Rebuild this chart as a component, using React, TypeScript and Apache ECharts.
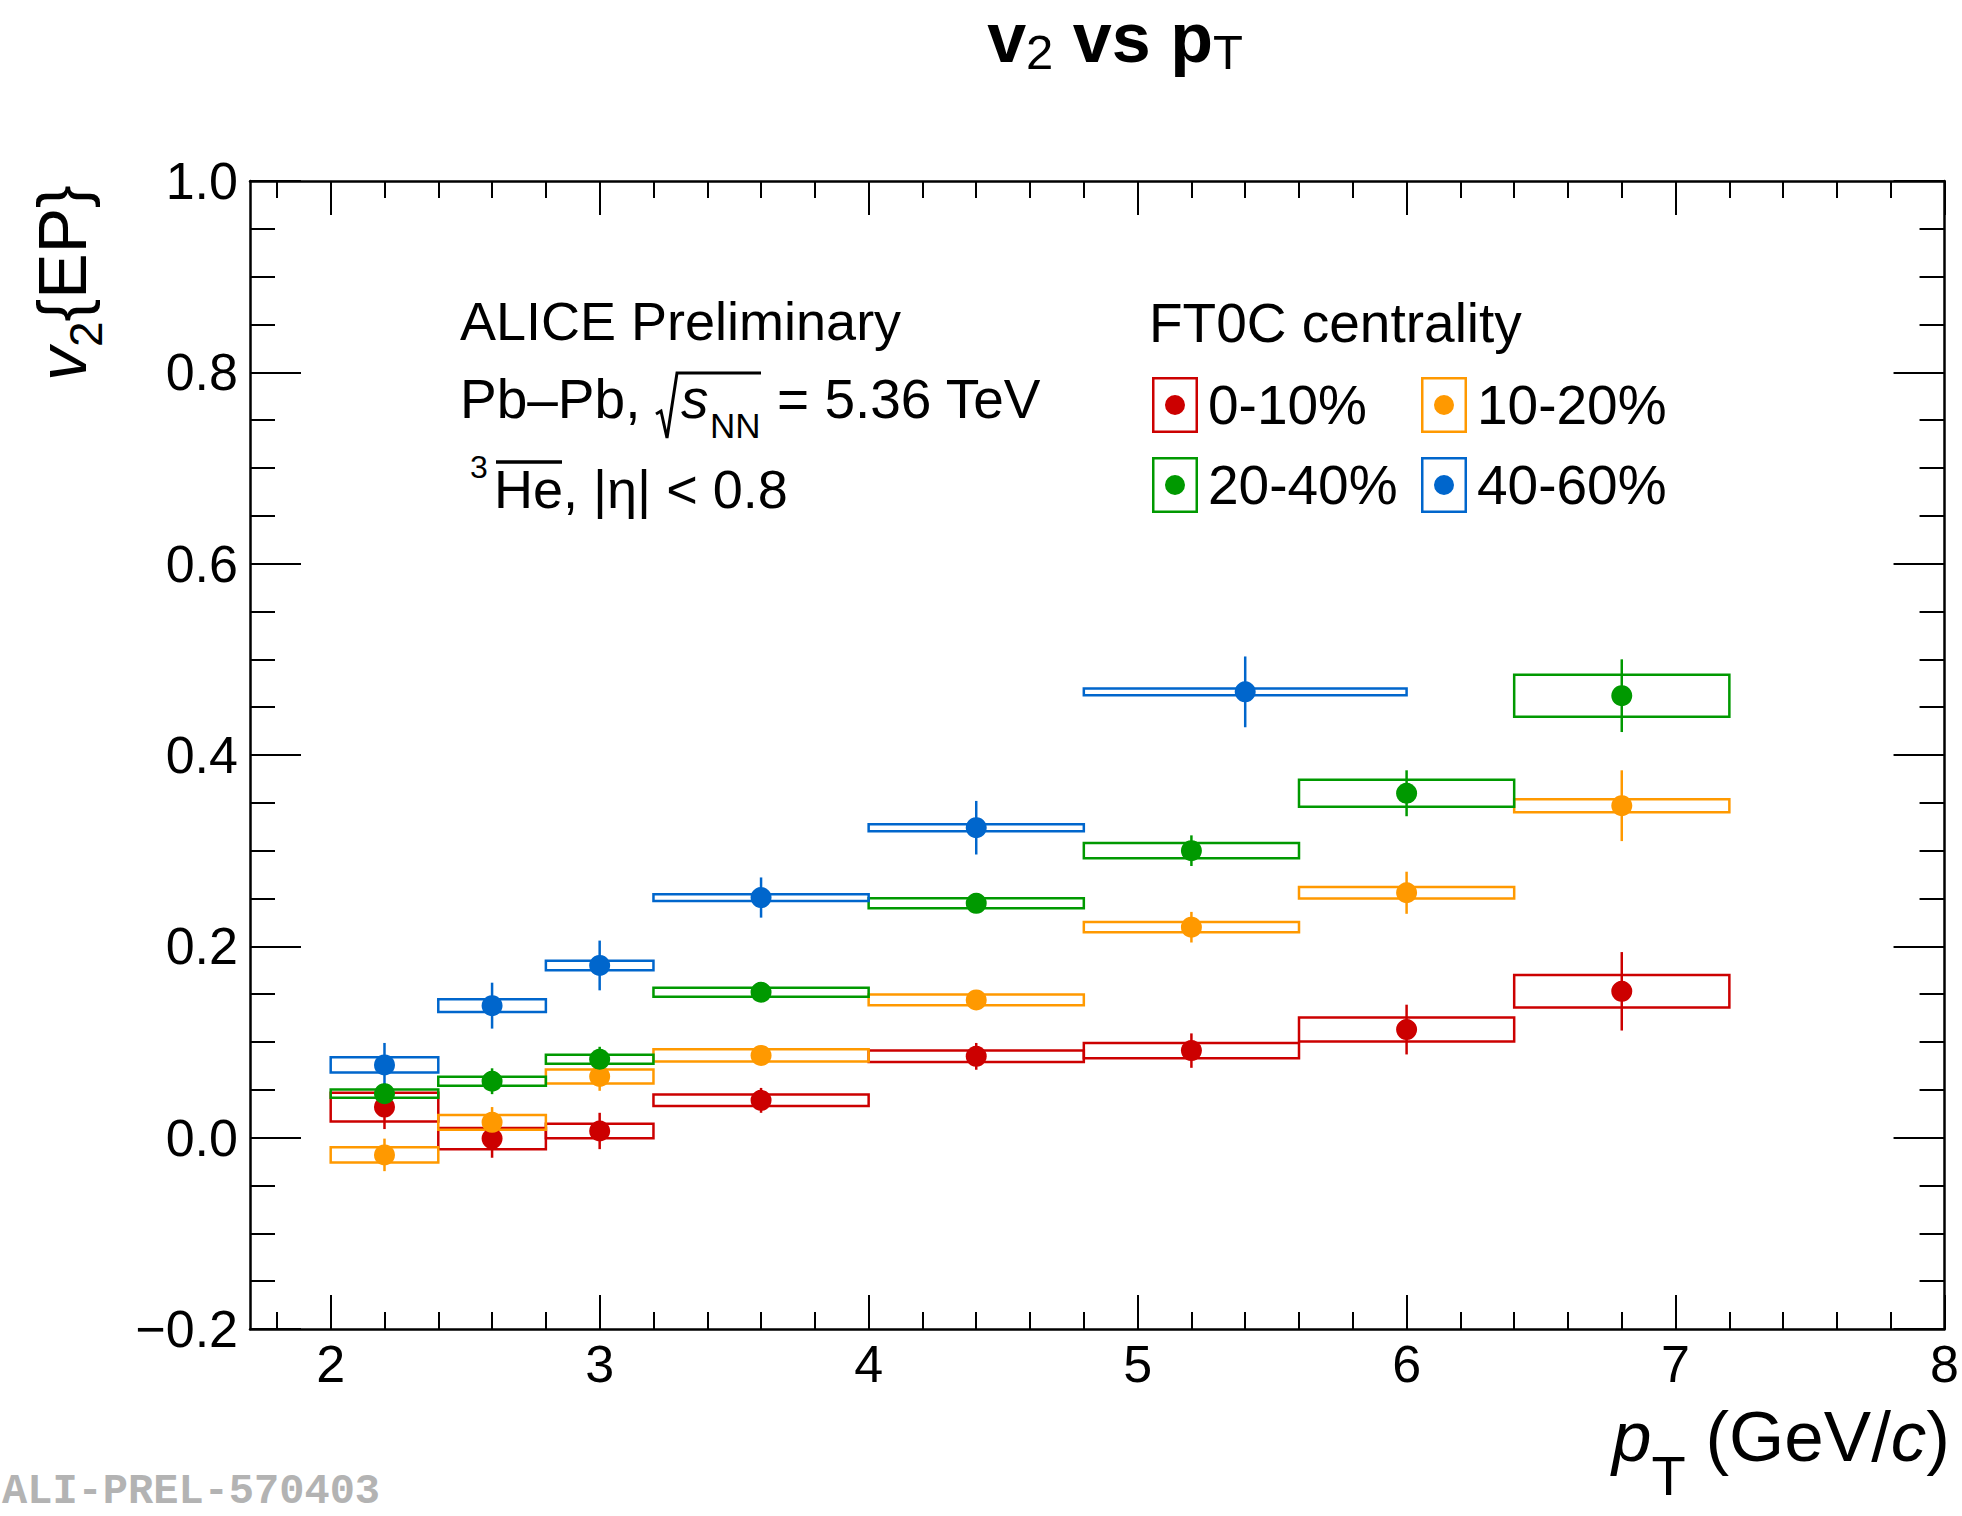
import React, { useEffect, useRef } from 'react';
import * as echarts from 'echarts';

// ---------------- data ----------------
const centralityNames = ['0-10%', '10-20%', '20-40%', '40-60%'];
const centralityColors = ['#cc0000', '#ff9900', '#009900', '#0066cc'];

const binLowStd = [2.0, 2.4, 2.8, 3.2, 4.0, 4.8, 5.6, 6.4];
const binHighStd = [2.4, 2.8, 3.2, 4.0, 4.8, 5.6, 6.4, 7.2];
const binLow4060 = [2.0, 2.4, 2.8, 3.2, 4.0, 4.8];
const binHigh4060 = [2.4, 2.8, 3.2, 4.0, 4.8, 6.0];

const v2_0_10 = [0.032, -0.001, 0.007, 0.039, 0.085, 0.091, 0.113, 0.153];
const stat_0_10 = [0.023, 0.020, 0.019, 0.013, 0.014, 0.018, 0.026, 0.041];
const syst_0_10 = [0.015, 0.011, 0.0075, 0.006, 0.006, 0.008, 0.0125, 0.017];

const v2_10_20 = [-0.018, 0.016, 0.064, 0.086, 0.144, 0.220, 0.256, 0.347];
const stat_10_20 = [0.017, 0.016, 0.015, 0.009, 0.009, 0.016, 0.022, 0.037];
const syst_10_20 = [0.008, 0.0077, 0.0073, 0.0063, 0.0056, 0.0054, 0.006, 0.0068];

const v2_20_40 = [0.046, 0.059, 0.082, 0.152, 0.245, 0.300, 0.360, 0.462];
const stat_20_40 = [0.011, 0.0135, 0.013, 0.009, 0.010, 0.016, 0.024, 0.038];
const syst_20_40 = [0.0044, 0.0047, 0.0048, 0.0046, 0.0053, 0.008, 0.014, 0.022];

const v2_40_60 = [0.076, 0.138, 0.180, 0.251, 0.324, 0.466];
const stat_40_60 = [0.023, 0.024, 0.026, 0.021, 0.028, 0.037];
const syst_40_60 = [0.008, 0.0066, 0.0049, 0.0035, 0.0037, 0.0035];

const xMajorTicks = [2, 3, 4, 5, 6, 7, 8];
const xMinorTicks = [1.8, 2.2, 2.4, 2.6, 2.8, 3.2, 3.4, 3.6, 3.8, 4.2, 4.4, 4.6, 4.8, 5.2, 5.4, 5.6, 5.8, 6.2, 6.4, 6.6, 6.8, 7.2, 7.4, 7.6, 7.8];

const FONT = '"Liberation Sans", Arial, Helvetica, sans-serif';
const LEGEND_ICON =
  'path://M0,0H46V56H0Z M2.5,2.5V53.5H43.5V2.5Z M13,28A10,10,0,1,0,33,28A10,10,0,1,0,13,28Z';

const groups = [
  { name: centralityNames[0], color: centralityColors[0], lo: binLowStd, hi: binHighStd, v: v2_0_10, stat: stat_0_10, syst: syst_0_10 },
  { name: centralityNames[1], color: centralityColors[1], lo: binLowStd, hi: binHighStd, v: v2_10_20, stat: stat_10_20, syst: syst_10_20 },
  { name: centralityNames[2], color: centralityColors[2], lo: binLowStd, hi: binHighStd, v: v2_20_40, stat: stat_20_40, syst: syst_20_40 },
  { name: centralityNames[3], color: centralityColors[3], lo: binLow4060, hi: binHigh4060, v: v2_40_60, stat: stat_40_60, syst: syst_40_60 },
];

function buildOption() {
  const series: any[] = [];
  groups.forEach((g) => {
    const color = g.color;
    series.push({
      type: 'custom',
      name: g.name + ' syst',
      xAxisIndex: 0,
      yAxisIndex: 0,
      silent: true,
      clip: false,
      encode: { x: [0, 1], y: 2 },
      data: g.v.map((y, i) => [g.lo[i], g.hi[i], y, g.stat[i], g.syst[i]]),
      renderItem: (params: any, api: any) => {
        const xl = api.value(0);
        const xh = api.value(1);
        const y = api.value(2);
        const st = api.value(3);
        const sy = api.value(4);
        const xc = (xl + xh) / 2;
        const tl = api.coord([xl, y + sy]);
        const br = api.coord([xh, y - sy]);
        const et = api.coord([xc, y + st]);
        const eb = api.coord([xc, y - st]);
        return {
          type: 'group',
          children: [
            {
              type: 'rect',
              shape: { x: tl[0], y: tl[1], width: br[0] - tl[0], height: br[1] - tl[1] },
              style: { fill: 'none', stroke: color, lineWidth: 2.5 },
            },
            {
              type: 'line',
              shape: { x1: et[0], y1: et[1], x2: eb[0], y2: eb[1] },
              style: { stroke: color, lineWidth: 2.5 },
            },
          ],
        };
      },
    });
    series.push({
      type: 'scatter',
      name: g.name,
      xAxisIndex: 0,
      yAxisIndex: 0,
      symbol: 'circle',
      symbolSize: 21,
      itemStyle: { color, opacity: 1 },
      emphasis: { disabled: true },
      data: g.v.map((y, i) => [(g.lo[i] + g.hi[i]) / 2, y]),
    });
  });

  const axisLineStyle = { color: '#000', width: 2.5 };
  const tickStyle = { color: '#000', width: 2 };

  const xBase = {
    type: 'value',
    min: 1.7,
    max: 8,
    splitLine: { show: false },
    axisLine: { show: true, onZero: false, lineStyle: axisLineStyle },
  };

  const yBase = {
    type: 'value',
    min: -0.2,
    max: 1.0,
    interval: 0.2,
    splitLine: { show: false },
    minorSplitLine: { show: false },
    axisLine: { show: true, onZero: false, lineStyle: axisLineStyle },
    axisTick: { show: true, inside: true, length: 51, lineStyle: tickStyle },
    minorTick: { show: true, splitNumber: 4, length: 25, lineStyle: tickStyle },
  };

  const legendCommon = {
    orient: 'vertical',
    itemWidth: 46,
    itemHeight: 56,
    itemGap: 24,
    padding: 0,
    selectedMode: false,
    itemStyle: { opacity: 1 },
    textStyle: { fontSize: 55, fontFamily: FONT, color: '#000', padding: [0, 0, 0, 5] },
  };

  return {
    animation: false,
    backgroundColor: '#ffffff',
    grid: { left: 250, right: 12, top: 181, bottom: 187, containLabel: false },
    legend: [
      {
        ...legendCommon,
        left: 1152,
        top: 377,
        data: [
          { name: centralityNames[0], icon: LEGEND_ICON },
          { name: centralityNames[2], icon: LEGEND_ICON },
        ],
      },
      {
        ...legendCommon,
        left: 1421,
        top: 377,
        data: [
          { name: centralityNames[1], icon: LEGEND_ICON },
          { name: centralityNames[3], icon: LEGEND_ICON },
        ],
      },
    ],
    xAxis: [
      {
        ...xBase,
        position: 'bottom',
        axisTick: { show: true, inside: true, length: 34, lineStyle: tickStyle, customValues: xMajorTicks },
        axisLabel: {
          show: true,
          customValues: xMajorTicks,
          fontSize: 52,
          fontFamily: FONT,
          color: '#000',
          margin: 9,
          formatter: (v: number) => String(Math.round(v)),
        },
      },
      {
        ...xBase,
        position: 'top',
        axisTick: { show: true, inside: true, length: 34, lineStyle: tickStyle, customValues: xMajorTicks },
        axisLabel: { show: false },
      },
      {
        ...xBase,
        position: 'bottom',
        axisLine: { show: false, onZero: false },
        axisTick: { show: true, inside: true, length: 17, lineStyle: tickStyle, customValues: xMinorTicks },
        axisLabel: { show: false, customValues: xMinorTicks },
      },
      {
        ...xBase,
        position: 'top',
        axisLine: { show: false, onZero: false },
        axisTick: { show: true, inside: true, length: 17, lineStyle: tickStyle, customValues: xMinorTicks },
        axisLabel: { show: false, customValues: xMinorTicks },
      },
    ],
    yAxis: [
      {
        ...yBase,
        position: 'left',
        axisLabel: {
          show: true,
          fontSize: 52,
          fontFamily: FONT,
          color: '#000',
          margin: 12,
          formatter: (v: number) => {
            const s = Math.abs(v) < 1e-9 ? '0.0' : v.toFixed(1);
            return s.replace('-', '\u2212');
          },
        },
      },
      {
        ...yBase,
        position: 'right',
        axisLabel: { show: false },
      },
    ],
    graphic: [
      // title
      {
        type: 'text',
        x: 1115,
        y: 38,
        style: {
          text: '{b|v}{s|2}{b| vs p}{s|T}',
          align: 'center',
          verticalAlign: 'middle',
          fill: '#000',
          font: `bold 70px ${FONT}`,
          rich: {
            b: { fontSize: 70, fontWeight: 'bold', fontFamily: FONT, fill: '#000' },
            s: { fontSize: 49, fontWeight: 'normal', fontFamily: FONT, fill: '#000', padding: [28, 0, 0, 0] },
          },
        },
      },
      // y-axis title
      {
        type: 'text',
        x: 62,
        y: 381,
        rotation: Math.PI / 2,
        style: {
          text: '{i|v}{s|2}{EP}',
          align: 'left',
          verticalAlign: 'middle',
          fill: '#000',
          font: `68px ${FONT}`,
          rich: {
            i: { fontSize: 68, fontStyle: 'italic', fontFamily: FONT, fill: '#000' },
            s: { fontSize: 46, fontFamily: FONT, fill: '#000', padding: [47, 0, 0, 0] },
          },
        },
      },
      // x-axis title
      {
        type: 'text',
        x: 1950,
        y: 1436,
        style: {
          text: '{i|p}{s|T}{n| (GeV/}{i|c}{n|)}',
          align: 'right',
          verticalAlign: 'middle',
          fill: '#000',
          font: `71px ${FONT}`,
          rich: {
            i: { fontSize: 71, fontStyle: 'italic', fontFamily: FONT, fill: '#000' },
            n: { fontSize: 71, fontFamily: FONT, fill: '#000' },
            s: { fontSize: 56, fontFamily: FONT, fill: '#000', padding: [78, 0, 0, 0] },
          },
        },
      },
      // ALICE Preliminary
      {
        type: 'text',
        x: 460,
        y: 321,
        style: { text: 'ALICE Preliminary', font: `54px ${FONT}`, fill: '#000', align: 'left', verticalAlign: 'middle' },
      },
      // Pb-Pb line
      {
        type: 'text',
        x: 460,
        y: 399,
        style: { text: 'Pb\u2013Pb,', font: `55px ${FONT}`, fill: '#000', align: 'left', verticalAlign: 'middle' },
      },
      {
        type: 'polyline',
        shape: { points: [[656, 414], [661, 411], [667, 438], [677, 373], [761, 373]] },
        style: { stroke: '#000', lineWidth: 3, fill: 'none' },
      },
      {
        type: 'text',
        x: 681,
        y: 399,
        style: { text: 's', font: `italic 55px ${FONT}`, fill: '#000', align: 'left', verticalAlign: 'middle' },
      },
      {
        type: 'text',
        x: 710,
        y: 425,
        style: { text: 'NN', font: `35px ${FONT}`, fill: '#000', align: 'left', verticalAlign: 'middle' },
      },
      {
        type: 'text',
        x: 777,
        y: 399,
        style: { text: '= 5.36 TeV', font: `55px ${FONT}`, fill: '#000', align: 'left', verticalAlign: 'middle' },
      },
      // 3He-bar line
      {
        type: 'text',
        x: 470,
        y: 467,
        style: { text: '3', font: `32px ${FONT}`, fill: '#000', align: 'left', verticalAlign: 'middle' },
      },
      {
        type: 'text',
        x: 494,
        y: 489,
        style: { text: 'He, |\u03b7| < 0.8', font: `54px ${FONT}`, fill: '#000', align: 'left', verticalAlign: 'middle' },
      },
      {
        type: 'line',
        shape: { x1: 496, y1: 462, x2: 562, y2: 462 },
        style: { stroke: '#000', lineWidth: 3.5 },
      },
      // FT0C centrality
      {
        type: 'text',
        x: 1149,
        y: 323,
        style: { text: 'FT0C centrality', font: `55px ${FONT}`, fill: '#000', align: 'left', verticalAlign: 'middle' },
      },
      // watermark
      {
        type: 'text',
        x: 2,
        y: 1492,
        style: {
          text: 'ALI-PREL-570403',
          font: `bold 42px "Liberation Mono", "DejaVu Sans Mono", monospace`,
          fill: '#b3b3b3',
          align: 'left',
          verticalAlign: 'middle',
        },
      },
    ],
    series,
  };
}

export default function App() {
  const ref = useRef<HTMLDivElement>(null);
  useEffect(() => {
    document.body.style.margin = '0';
    document.body.style.overflow = 'hidden';
    if (!ref.current) return;
    const chart = echarts.init(ref.current, null, { renderer: 'svg' });
    chart.setOption(buildOption() as any);
    return () => {
      chart.dispose();
    };
  }, []);
  return <div ref={ref} style={{ width: 1962, height: 1516, background: '#fff' }} />;
}
